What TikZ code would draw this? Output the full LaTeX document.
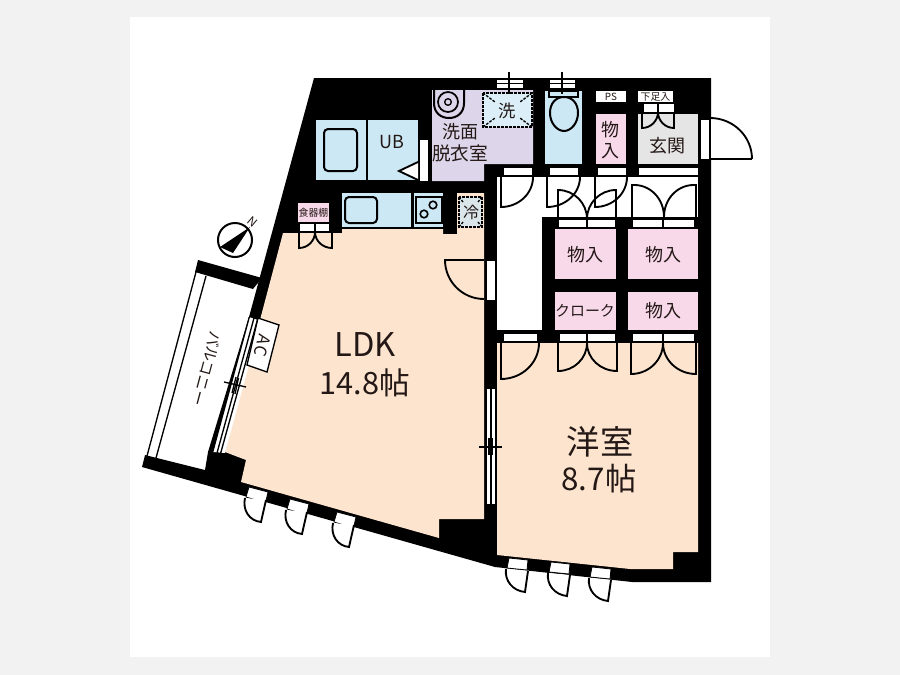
\documentclass[tikz,border=0pt]{standalone}
\usepackage{fontspec}
\setmainfont{Noto Sans CJK JP}
\usetikzlibrary{calc}
\definecolor{pagebg}{HTML}{F2F2F2}
\definecolor{peach}{HTML}{FCE4CF}
\definecolor{icey}{HTML}{CDE8F5}
\definecolor{lilac}{HTML}{DDD6EA}
\definecolor{rose}{HTML}{F8D9EA}
\definecolor{stone}{HTML}{E5E5E5}
\definecolor{ink}{HTML}{231815}
\tikzset{
  px/.style={inner sep=0pt,outer sep=0pt,text=ink},
  big/.style={px,font=\fontsize{23}{26}\selectfont},
  mid/.style={px,font=\fontsize{13.5}{16}\selectfont},
  small/.style={px,font=\fontsize{11}{13}\selectfont},
  tiny/.style={px,font=\fontsize{7.4}{8}\selectfont},
  doorline/.style={draw=black,line width=1.4pt},
  thin line/.style={draw=black,line width=1pt},
  stripe/.style={fill=white,draw=black,line width=.6pt},
  dashbox/.style={draw=black,line width=1pt,dash pattern=on 2pt off 1pt},
}
\newcommand\swing[4][]{%
  \coordinate (K) at ($(#3)+(#4)-(#2)$);
  \draw[doorline,#1] (#2) -- (#3) .. controls ($(#3)!.552!(K)$) and ($(#4)!.552!(K)$) .. (#4);}
\newcommand\winleaf[2]{% offset x,y
  \begin{scope}[shift={(#1,#2)}]
    \draw[stripe] (249,487)--(268,492)--(265.5,503)--(246,497)--cycle;
    \swing[fill=white]{266,500}{261,522}{245,498}
  \end{scope}}
\newcommand\bedleaf[2]{%
  \begin{scope}[shift={(#1,#2)}]
    \draw[stripe] (509,558)--(528,560)--(527,570)--(507,568)--cycle;
    \swing[fill=white]{528,571}{525,592}{506,569}
  \end{scope}}
\begin{document}
\begin{tikzpicture}[x=.75pt,y=-.75pt]
\useasboundingbox (0,0) rectangle (900,675);
\fill[pagebg] (0,0) rectangle (900,675);
\fill[white] (130,17) rectangle (770,657);
% walls
\fill[black] (314,78)--(711,78)--(711,582)--(632,582)--(495,567)--(142,467)--(145,455)--(205,470)--(208,452)--(249,317)--cycle;
\fill[black] (198,260)--(262,278)--(253,289)--(195,272)--cycle;
% balcony rails
\draw[thin line] (196,272)--(147,456);
\draw[thin line] (206,276)--(156,458);
% LDK
\fill[peach] (283,233)--(342,233)--(342,229)--(443,229)--(443,234)--(457,234)--(457,193)--(484,193)--(484,519)--(439,519)--(439,538)--(241,482)--(246,460)--(225,452)--cycle;
% bedroom
\fill[peach] (497,343)--(698,343)--(698,552)--(673,552)--(673,569)--(630,569)--(497,555)--cycle;
% balcony window
\fill[white] (249,317)--(261,321)--(225,453)--(213,452)--cycle;
\draw[thin line] (249.3,317)--(212.7,452);
\draw[thin line] (254,318)--(217,453);
\draw[thin line] (257.7,319)--(220.7,453);
\draw[thin line] (224,382)--(246,387);
\draw[thin line] (236,377)--(232,393);
\draw[thin line] (238.5,378)--(235,394);
% AC
\draw[fill=white,line width=1pt] (258,318)--(279,325)--(267,372)--(247,365)--cycle;
\node[small,rotate=-105,font=\fontsize{12.5}{14}\selectfont] (ac) at (262.5,346) {A\kern1pt C};
\node[small,rotate=-105,font=\fontsize{11.5}{14}\selectfont] (balcony) at (207,369) {バルコニー};
% compass
\draw[fill=white,line width=1.5pt] (235,240) circle (17);
\fill[black] (250,227)--(220,247)--(233,253)--cycle;
\node[tiny,rotate=-40,font=\fontsize{9}{10}\selectfont] (north) at (253,222) {N};
% unit bath
\fill[icey] (316,120) rectangle (418,180);
\draw[line width=1.2pt] (367,120)--(367,180);
\draw[line width=1.5pt,rounded corners=3pt] (324,129) rectangle (357,171);
\node[mid] (ub) at (392,142) {UB};
\draw[fill=white,line width=1.4pt] (418,162)--(399,171)--(418,180);
\fill[white] (420,140) rectangle (428,181);
% washroom
\fill[lilac] (432,90)--(533,90)--(533,164)--(484,164)--(484,181)--(432,181)--cycle;
\draw[line width=1.5pt] (434,90)--(434,103) .. controls (434,113) and (441,118) .. (449,118) .. controls (457,118) and (464,113) .. (464,103)--(464,90);
\draw[line width=1.3pt] (448,102) circle (10);
\draw[line width=1pt] (448,102) circle (3.3);
\fill[icey!70!white] (483,93) rectangle (532,127);
\draw[dashbox] (483,93) rectangle (532,127);
\draw[dashbox] (483,93)--(495,102) (532,93)--(520,102) (483,127)--(495,118) (532,127)--(520,118);
\node[mid,font=\fontsize{13}{15}\selectfont] (wash) at (507,111) {洗};
\node[mid] (sen) at (460,132) {洗面};
\node[mid,font=\fontsize{14}{16}\selectfont] (datsu) at (460,153) {脱衣室};
% washer pipe
\draw[stripe] (496,79) rectangle (523,88);
\draw[line width=.8pt] (496,83.5)--(523,83.5);
\draw[line width=.8pt] (509,72)--(509,94);
% toilet
\fill[icey] (545,91) rectangle (582,164);
\draw[fill=icey,line width=1.3pt] (549,91) rectangle (578,97);
\draw[fill=icey,line width=1.5pt] (550,113) .. controls (550,103) and (556,97) .. (564,97) .. controls (572,97) and (578,103) .. (578,113) .. controls (578,123) and (571,131) .. (564,131) .. controls (557,131) and (550,123) .. (550,113) -- cycle;
\draw[stripe] (549,79) rectangle (575,88);
\draw[line width=.8pt] (549,83.5)--(575,83.5);
\draw[line width=.8pt] (562,72)--(562,94);
% small closet, PS, shoe box, entry
\fill[rose] (596,114) rectangle (626,164);
\node[mid] (mono) at (610,130) {物};
\node[mid] (iri) at (610,151) {入};
\fill[white] (596,91) rectangle (626,102);
\node[tiny] (ps) at (611,96.5) {PS};
\fill[white] (638,91) rectangle (673,102);
\node[tiny] (shoe) at (655.5,96.5) {下足入};
\fill[stone] (638,114) rectangle (698,164);
\node[mid] (genkan) at (667,146) {玄関};
\draw[stripe] (643,103) rectangle (674,112);
\draw[line width=.8pt] (658,103)--(658,112);
\swing{642,112}{642,128}{658,112}
\swing{674,112}{674,128}{658,112}
\fill[white] (701,120) rectangle (709,159);
\swing[fill=white]{710,159}{710,118}{752,159}
\draw[doorline] (710,159)--(752,159);
% corridor
\fill[white] (497,177) rectangle (698,217);
\fill[white] (497,177) rectangle (542,330);
\fill[black] (542,217) rectangle (698,229);
\draw[stripe] (503,167) rectangle (532,175);
\draw[stripe] (549,167) rectangle (578,175);
\draw[stripe] (597,167) rectangle (626,175);
\draw[stripe] (638,167) rectangle (698,175);
\swing{501,177}{501,207}{533,177}
\swing{547,177}{547,207}{580,177}
\swing{595,177}{595,207}{627,177}
% closets
\fill[rose] (555,229) rectangle (616,279);
\fill[rose] (628,229) rectangle (698,279);
\fill[rose] (555,292) rectangle (616,330);
\fill[rose] (628,292) rectangle (698,330);
\node[mid] (c1) at (585,255) {物入};
\node[mid] (c2) at (663,255) {物入};
\node[mid,font=\fontsize{11.2}{13}\selectfont] (c3) at (585,311) {クローク};
\node[mid] (c4) at (663,311) {物入};
% closet doors, top
\draw[stripe] (558,219) rectangle (615,227);
\draw[line width=.8pt] (587,219)--(587,227);
\draw[stripe] (632,219) rectangle (694,227);
\draw[line width=.8pt] (663,219)--(663,227);
\swing{558,219}{558,190}{587,219}
\swing{616,219}{616,190}{587,219}
\swing{632,219}{632,185}{664,217}
\swing{696,219}{696,185}{664,217}
% closet doors, bottom
\draw[stripe] (503,333) rectangle (537,341);
\draw[stripe] (559,333) rectangle (615,341);
\draw[line width=.8pt] (587,333)--(587,341);
\draw[stripe] (632,333) rectangle (694,341);
\draw[line width=.8pt] (663,333)--(663,341);
\swing{501,343}{501,379}{539,343}
\swing{558,343}{558,371}{587,343}
\swing{617,343}{617,371}{587,343}
\swing{631,343}{631,374}{663,343}
\swing{696,343}{696,374}{663,343}
% kitchen
\fill[icey] (342,193) rectangle (411,227);
\fill[icey] (414,193) rectangle (443,227);
\draw[line width=1.5pt,rounded corners=3pt] (345,197) rectangle (377,223);
\draw[line width=1.5pt] (416,197) rectangle (442,223);
\draw[line width=1.2pt] (433,205) circle (3.8);
\draw[line width=1.2pt] (424,214) circle (3.8);
% fridge
\fill[stone!60!icey] (459,197) rectangle (482,227);
\draw[dashbox] (459,197) rectangle (482,227);
\draw[dashbox] (459,197)--(463,202) (482,197)--(478,202) (459,227)--(463,222) (482,227)--(478,222);
\node[small,font=\fontsize{12}{14}\selectfont] (rei) at (471,212) {冷};
% dish cabinet
\fill[rose] (298,203) rectangle (329,222);
\node[tiny] (dish) at (313.5,212.5) {食器棚};
\draw[stripe] (299,223) rectangle (329,231);
\draw[line width=.8pt] (315,223)--(315,231);
\swing{299,232}{299,248}{315,232}
\swing{332,232}{332,248}{315,232}
% corridor door to LDK
\fill[white] (487,261) rectangle (495,300);
\swing{484,260}{445,260}{484,299}
% LDK / bedroom sliding window
\fill[white] (486,388) rectangle (495.5,505);
\draw[line width=.9pt] (486,388) rectangle (495.5,505);
\draw[line width=.8pt] (491,388)--(491,505);
\draw[thin line] (479,447)--(502,447);
\draw[line width=.8pt] (489,438)--(489,455) (492,438)--(492,455);
% exterior windows
\winleaf{0}{0}
\winleaf{41}{12}
\winleaf{88}{25}
\bedleaf{0}{0}
\bedleaf{42}{4}
\bedleaf{83}{9}
% room labels
\node[big,font=\fontsize{24.5}{28}\selectfont] (ldk) at (365,345) {LDK};
\node[big] (ldka) at (365,383) {14.8帖};
\node[big,font=\fontsize{25}{28}\selectfont] (yo) at (600,442) {洋室};
\node[big,font=\fontsize{23.5}{26}\selectfont] (yoa) at (599,479) {8.7帖};
\end{tikzpicture}
\end{document}
